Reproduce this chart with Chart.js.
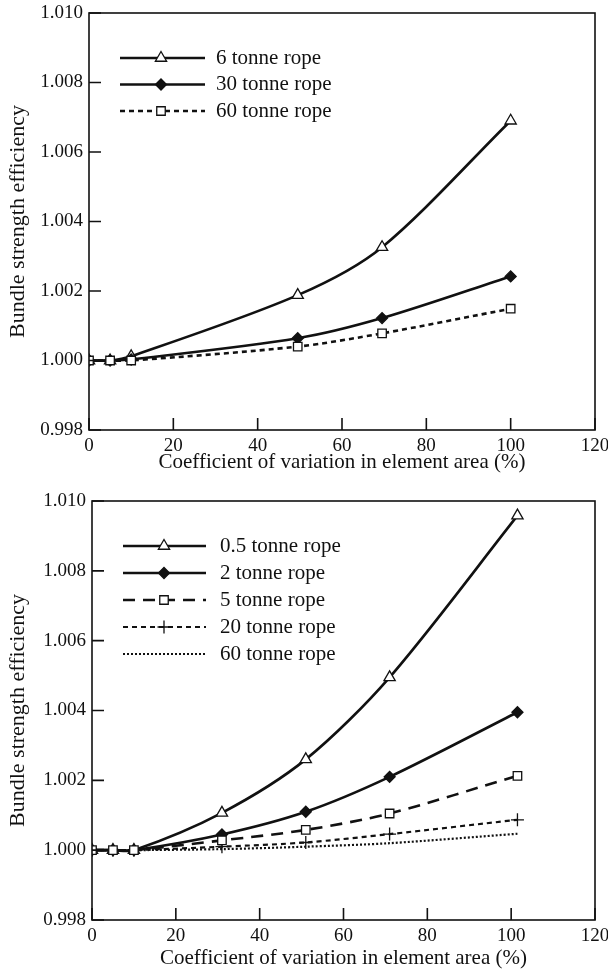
<!DOCTYPE html>
<html>
<head>
<meta charset="utf-8">
<script src="https://cdn.jsdelivr.net/npm/chart.js@4.4.0/dist/chart.umd.min.js"></script>
<style>
  html, body { margin: 0; padding: 0; background: #fff; }
  #top { position: absolute; left: 0; top: 0; width: 608px; height: 480px; }
  #bottom { position: absolute; left: 0; top: 480px; width: 608px; height: 492px; }
</style>
</head>
<body>
<div id="top"><canvas id="chart-top"></canvas></div>
<div id="bottom"><canvas id="chart-bottom"></canvas></div>
<script>
// tick labels
const xTicks = [0, 20, 40, 60, 80, 100, 120];
const yTicks = [0.998, 1.000, 1.002, 1.004, 1.006, 1.008, 1.010];

// top panel
const topCov = [0, 5, 10, 49.5, 69.5, 100];
const rope6 = [1.0000, 1.0000, 1.00012, 1.00188, 1.00326, 1.00690];
const rope30 = [1.0000, 1.0000, 1.00003, 1.00064, 1.00122, 1.00242];
const rope60 = [1.0000, 1.0000, 1.0000, 1.00040, 1.00078, 1.00149];

// bottom panel
const bottomCov = [0, 5, 10, 31, 51, 71, 101.5];
const rope0_5 = [1.0000, 1.0000, 1.0000, 1.00107, 1.00260, 1.00495, 1.00958];
const rope2 = [1.0000, 1.0000, 1.0000, 1.00045, 1.00110, 1.00210, 1.00395];
const rope5 = [1.0000, 1.0000, 1.0000, 1.00028, 1.00058, 1.00105, 1.00213];
const rope20 = [1.0000, 1.0000, 1.0000, 1.00010, 1.00022, 1.00046, 1.00087];
const rope60b = [1.0000, 1.0000, 1.0000, 1.00003, 1.00010, 1.00020, 1.00047];

const INK = "#111";
const SERIF = "'Liberation Serif', 'DejaVu Serif', serif";
Chart.defaults.font.family = SERIF;
Chart.defaults.font.size = 19;
Chart.defaults.color = INK;

function pts(xs, ys) {
  return xs.map((x, i) => ({ x: x, y: ys[i] }));
}

function series(label, xs, ys, style) {
  return Object.assign({
    label: label,
    data: pts(xs, ys),
    borderColor: INK,
    backgroundColor: "#fff",
    pointBorderColor: INK,
    pointBackgroundColor: "#fff",
    borderWidth: 2.6,
    pointBorderWidth: 1.3,
    pointRadius: 6.5,
    tension: 0.3,
  }, style);
}

// box round the plot + inward tick marks
const framePlugin = {
  id: "frame",
  afterDraw(chart) {
    const { ctx, chartArea: a, scales } = chart;
    ctx.save();
    ctx.strokeStyle = INK;
    ctx.lineWidth = 1.6;
    ctx.strokeRect(a.left, a.top, a.right - a.left, a.bottom - a.top);
    ctx.beginPath();
    scales.x.ticks.forEach((t) => {
      const px = scales.x.getPixelForValue(t.value);
      ctx.moveTo(px, a.bottom);
      ctx.lineTo(px, a.bottom - 12);
    });
    scales.y.ticks.forEach((t) => {
      const py = scales.y.getPixelForValue(t.value);
      ctx.moveTo(a.left, py);
      ctx.lineTo(a.left + 12, py);
    });
    ctx.stroke();
    ctx.restore();
  },
};

// legend drawn inside the plot: line sample, marker in middle, label
const legendPlugin = {
  id: "boxLegend",
  afterDraw(chart, args, opts) {
    const { ctx } = chart;
    ctx.save();
    chart.data.datasets.forEach((ds, i) => {
      const y = opts.y + i * opts.gap;
      ctx.strokeStyle = INK;
      ctx.lineWidth = ds.borderWidth;
      ctx.setLineDash(ds.borderDash || []);
      ctx.beginPath();
      ctx.moveTo(opts.x1, y);
      ctx.lineTo(opts.x2, y);
      ctx.stroke();
      ctx.setLineDash([]);
      if (ds.pointRadius > 0) {
        ctx.fillStyle = ds.pointBackgroundColor;
        ctx.strokeStyle = INK;
        ctx.lineWidth = ds.pointBorderWidth;
        Chart.helpers.drawPoint(ctx, {
          pointStyle: ds.pointStyle,
          radius: ds.pointRadius,
          borderWidth: ds.pointBorderWidth,
          rotation: 0,
        }, opts.xm, y);
      }
      ctx.fillStyle = INK;
      ctx.font = "21px " + SERIF;
      ctx.textBaseline = "middle";
      ctx.textAlign = "left";
      ctx.fillText(ds.label, opts.tx, y);
    });
    ctx.restore();
  },
};

function makeChart(id, datasets, cfg) {
  return new Chart(document.getElementById(id), {
    type: "line",
    data: { datasets: datasets },
    options: {
      responsive: true,
      maintainAspectRatio: false,
      animation: false,
      layout: { padding: { top: cfg.padTop, right: 13, left: 0, bottom: 0 } },
      plugins: {
        legend: { display: false },
        tooltip: { enabled: false },
        boxLegend: cfg.legend,
      },
      scales: {
        x: {
          type: "linear",
          min: 0,
          max: 120,
          grid: { display: false, drawTicks: false },
          border: { display: false },
          afterBuildTicks: (s) => { s.ticks = xTicks.map((v) => ({ value: v })); },
          afterFit: (s) => {
            s.height = cfg.xHeight;
            s.paddingLeft = 0;
            s.paddingRight = 0;
          },
          ticks: { padding: 5, maxRotation: 0, callback: (v) => String(v) },
          title: {
            display: true,
            text: "Coefficient of variation in element area (%)",
            font: { size: 21 },
            padding: { top: 0, bottom: cfg.titlePad },
          },
        },
        y: {
          type: "linear",
          min: 0.998,
          max: 1.010,
          grid: { display: false, drawTicks: false },
          border: { display: false },
          afterBuildTicks: (s) => { s.ticks = yTicks.map((v) => ({ value: v })); },
          afterFit: (s) => {
            s.width = cfg.yWidth;
            s.paddingTop = 0;
            s.paddingBottom = 0;
          },
          ticks: { padding: 6, callback: (v) => Number(v).toFixed(3) },
          title: {
            display: true,
            text: "Bundle strength efficiency",
            font: { size: 22 },
            padding: { top: 5, bottom: 0 },
          },
        },
      },
    },
    plugins: [framePlugin, legendPlugin],
  });
}

makeChart("chart-top", [
  series("6 tonne rope", topCov, rope6, { pointStyle: "triangle", order: 2 }),
  series("30 tonne rope", topCov, rope30, {
    pointStyle: "rectRot", pointRadius: 5.5, pointBackgroundColor: INK, order: 1,
  }),
  series("60 tonne rope", topCov, rope60, {
    pointStyle: "rect", pointRadius: 6, borderDash: [5, 4], order: 0,
  }),
], {
  padTop: 13, xHeight: 50, yWidth: 89, titlePad: 5,
  legend: { x1: 120, x2: 205, xm: 161, tx: 216, y: 58, gap: 26.5 },
});

makeChart("chart-bottom", [
  series("0.5 tonne rope", bottomCov, rope0_5, { pointStyle: "triangle", order: 4 }),
  series("2 tonne rope", bottomCov, rope2, {
    pointStyle: "rectRot", pointRadius: 5.5, pointBackgroundColor: INK, order: 3,
  }),
  series("5 tonne rope", bottomCov, rope5, {
    pointStyle: "rect", pointRadius: 6, borderDash: [12, 8], order: 0,
  }),
  series("20 tonne rope", bottomCov, rope20, {
    pointStyle: "cross", borderDash: [5, 4], borderWidth: 2.2, order: 1,
  }),
  series("60 tonne rope", bottomCov, rope60b, {
    pointRadius: 0, borderDash: [2, 2], borderWidth: 2.2, order: 2,
  }),
], {
  padTop: 21, xHeight: 52, yWidth: 92, titlePad: 1,
  legend: { x1: 123, x2: 206, xm: 164, tx: 220, y: 66, gap: 27 },
});
</script>
</body>
</html>
